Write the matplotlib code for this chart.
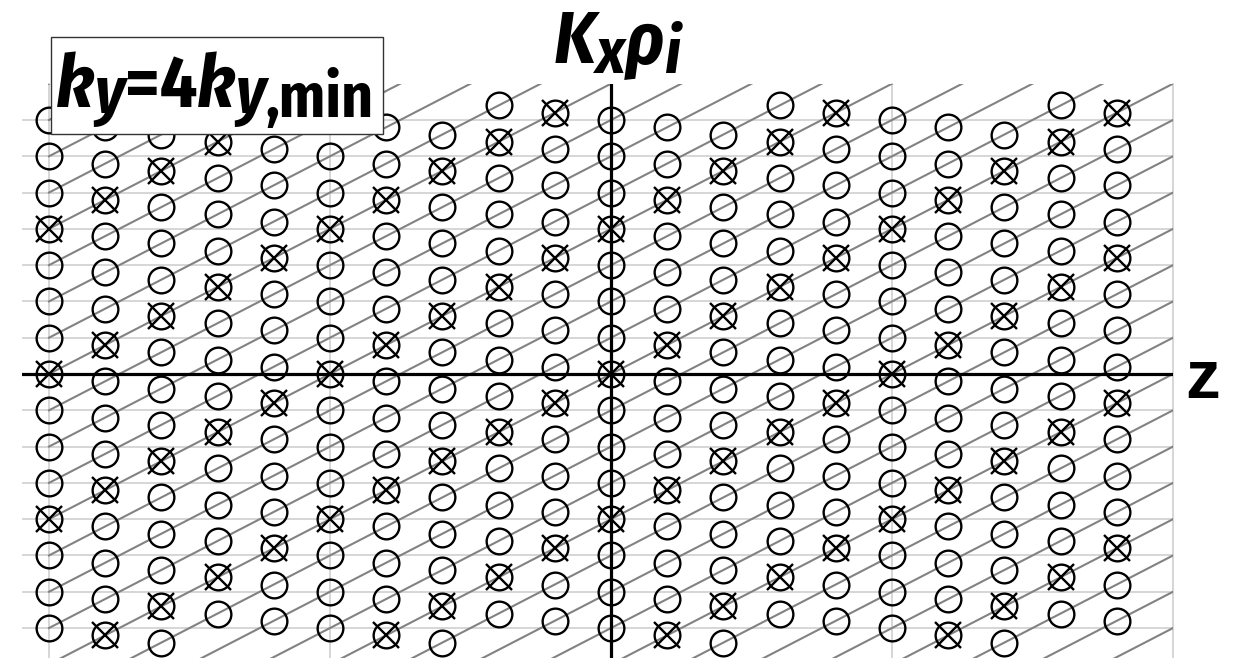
import matplotlib
matplotlib.use("Agg")
import matplotlib.pyplot as plt
from matplotlib.patches import Rectangle

# schematic grid values
z_points = list(range(20))                 # z grid points (columns)
kx_index = list(range(-10, 12))            # integer kx index before the column shift
col_shift = [0.0, -0.2, -0.4, -0.6, -0.8]  # kx shift of the grid, repeats every 5 z points
line_slope = 0.8                           # kx change per z point along a connected line
line_starts = list(range(-24, 9))          # kx where each gray line leaves z=0
ky_over_kymin = 4                          # every 4th line is the linked (crossed) chain
kx_limit = 7.5                             # circles shown for |kx| <= this
grid_kx = list(range(-7, 8))               # light horizontal grid lines
grid_z = [0, 5, 15, 20]                    # light vertical grid lines
kx_axis_z = 10                             # where the Kx axis crosses z

# label pieces: text, size, style, baseline px (laid out left to right)
title_pieces = [("K", 53, "italic", 63), ("x", 46, "italic", 73),
                ("ρ", 53, "italic", 64), ("i", 46, "italic", 73)]
box_pieces = [("k", 53, "italic", 107), ("y", 47, "italic", 112),
              ("=4", 53, "normal", 107), ("k", 53, "italic", 107),
              ("y", 47, "italic", 112), (",min", 44, "normal", 117)]
label_font = ['Fira Sans Condensed', 'Roboto Condensed', 'DejaVu Sans']

W, H = 1233, 658


def fx(px):
    return px / W


def fy(py):
    return 1 - py / H


def put_pieces(x0, pieces, z=11):
    renderer = fig.canvas.get_renderer()
    x = x0
    for s, size, style, base in pieces:
        t = fig.text(fx(x), fy(base), s, fontsize=size, fontweight='bold',
                     fontstyle=style, family=label_font,
                     ha='left', va='baseline', zorder=z)
        x += t.get_window_extent(renderer).width
    return x


fig = plt.figure(figsize=(W / 100, H / 100), dpi=100)
ax = fig.add_axes([fx(22), 0, fx(1173) - fx(22), fy(83.7)])
ax.set_xlim(-0.48, 20)
ax.set_ylim(8 - (658 - 83.7) / 36.29, 8)
ax.axis('off')

for k in grid_kx:
    ax.axhline(k, color='#d6d6d6', lw=1.4, zorder=1)
for z in grid_z:
    ax.axvline(z, color='#d6d6d6', lw=1.4, zorder=1, clip_on=False)

for s in line_starts:
    ax.plot([z_points[0], z_points[-1] + 1],
            [s, s + line_slope * (z_points[-1] + 1)],
            color='#828282', lw=1.5, zorder=2)

ax.axhline(0, color='black', lw=2.3, zorder=3)
ax.axvline(kx_axis_z, color='black', lw=2.3, zorder=3)

open_z, open_k, cross_z, cross_k = [], [], [], []
for j in z_points:
    for n in kx_index:
        kx = n + col_shift[j % len(col_shift)]
        if abs(kx) > kx_limit:
            continue
        start = round(kx - line_slope * j)
        if start % ky_over_kymin == 0:
            cross_z.append(j)
            cross_k.append(kx)
        else:
            open_z.append(j)
            open_k.append(kx)

mk = dict(ls='none', mfc='none', mec='black', ms=18.5, mew=1.7, zorder=4)
ax.plot(open_z, open_k, marker='o', **mk)
ax.plot(cross_z, cross_k, marker='o', **mk)
ax.plot(cross_z, cross_k, marker='x', ls='none', color='black',
        ms=19, mew=1.7, zorder=4)

# labels
put_pieces(554, title_pieces)
fig.text(fx(1203), fy(398), 'z', fontsize=50, fontweight='bold',
         family='Liberation Sans', ha='center', va='baseline')

box = Rectangle((fx(51), fy(134)), fx(383) - fx(51), fy(37) - fy(134),
                transform=fig.transFigure, facecolor='white',
                edgecolor='#333333', lw=1.0, zorder=10)
fig.patches.append(box)
put_pieces(56, box_pieces)

fig.savefig('out.png', dpi=100)
